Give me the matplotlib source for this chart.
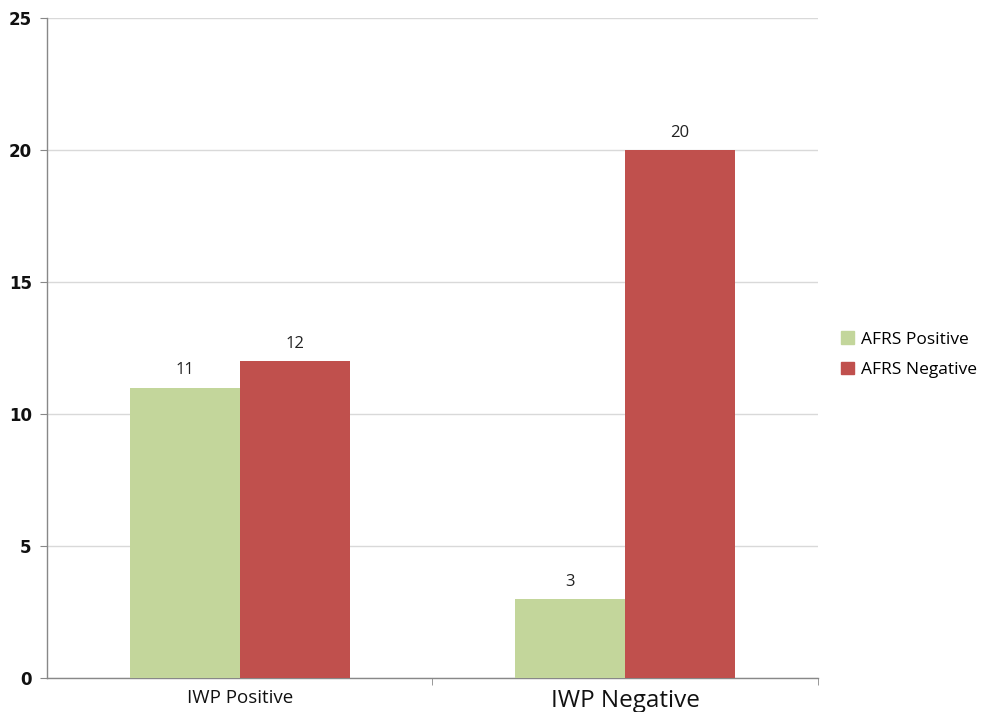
import matplotlib
matplotlib.use("Agg")
import matplotlib.pyplot as plt
import numpy as np
from matplotlib.patches import Patch

categories = ["IWP Positive", "IWP Negative"]
series_names = ["AFRS Positive", "AFRS Negative"]
afrs_positive = [11, 3]
afrs_negative = [12, 20]
y_ticks = [0, 5, 10, 15, 20, 25]

green = "#c3d69b"
red = "#c0504d"

fig = plt.figure(figsize=(9.89, 7.12), dpi=100)
ax = fig.add_axes([0.0475, 0.0478, 0.7795, 0.927])

x = np.arange(len(categories))
w = 0.285
b1 = ax.bar(x - w / 2, afrs_positive, w, color=green, zorder=3)
b2 = ax.bar(x + w / 2, afrs_negative, w, color=red, zorder=3)

for bars, vals in ((b1, afrs_positive), (b2, afrs_negative)):
    for r, v in zip(bars, vals):
        ax.text(r.get_x() + r.get_width() / 2, v + 0.35, str(v),
                ha="center", va="bottom", fontsize=12, family="Open Sans",
                color="#222222")

ax.set_xlim(-0.5, 1.5)
ax.set_ylim(0, 25)
ax.set_yticks(y_ticks)
ax.set_yticklabels([str(t) for t in y_ticks], fontsize=12, fontweight="bold",
                   family="DejaVu Sans", color="#111111")
ax.yaxis.grid(True, color="#d9d9d9", linewidth=1, zorder=0)
ax.tick_params(axis="y", length=5, color="#888888", pad=6)

# category separators as minor ticks on the x axis
ax.set_xticks([0, 1])
ax.set_xticks([0.5, 1.5], minor=True)
ax.tick_params(axis="x", which="major", length=0, pad=8)
ax.tick_params(axis="x", which="minor", length=5, color="#888888")
labels = ax.set_xticklabels(categories, family="Open Sans", color="#111111")
labels[0].set_fontsize(13.5)
labels[1].set_fontsize(17.5)

for s in ("top", "right"):
    ax.spines[s].set_visible(False)
for s in ("left", "bottom"):
    ax.spines[s].set_color("#888888")
    ax.spines[s].set_linewidth(1)

handles = [Patch(color=green), Patch(color=red)]
leg = fig.legend(handles, series_names, loc="center left",
                 bbox_to_anchor=(0.835, 0.502), frameon=False,
                 handlelength=0.7, handleheight=0.7, handletextpad=0.4,
                 labelspacing=0.8, prop={"family": "Open Sans", "size": 12.5})

fig.savefig("out.png", dpi=100)
